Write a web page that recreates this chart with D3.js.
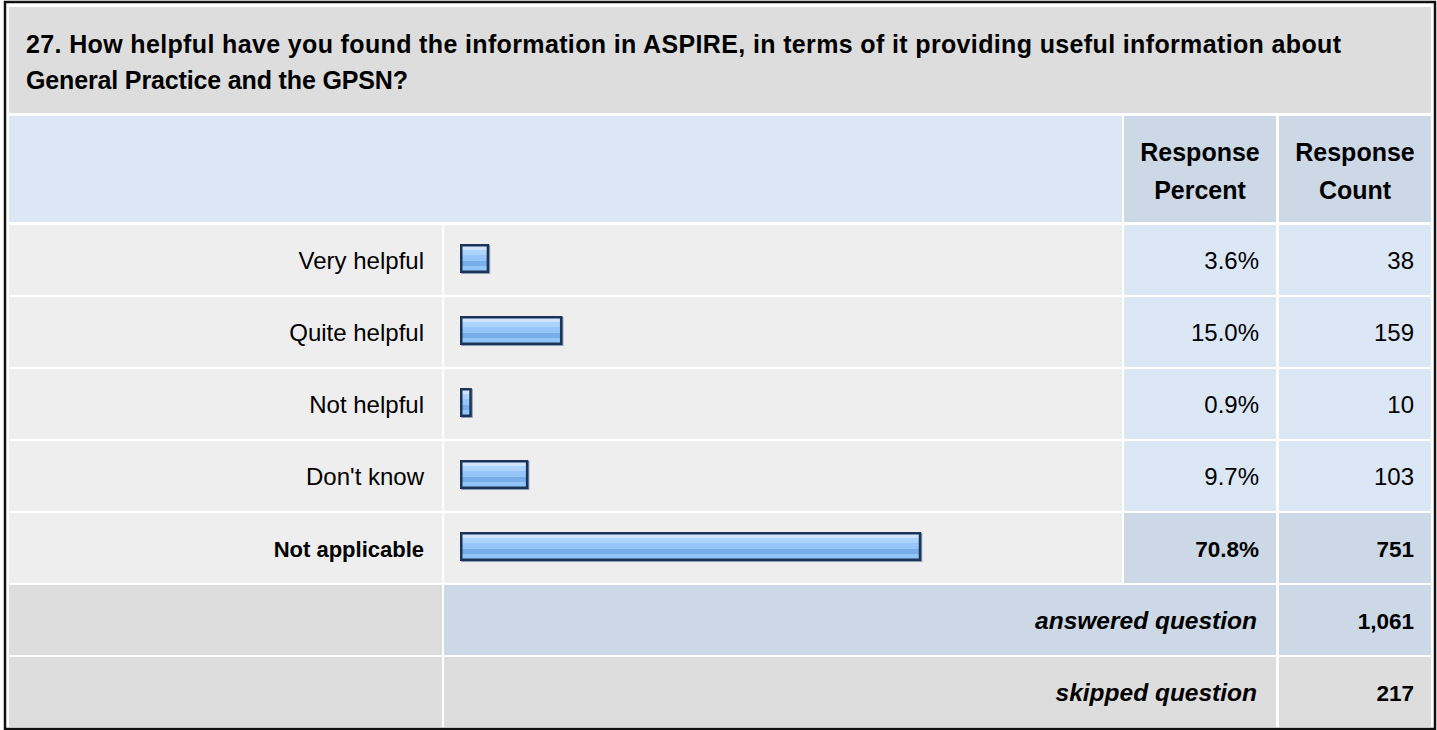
<!DOCTYPE html>
<html>
<head>
<meta charset="utf-8">
<script src="https://cdn.jsdelivr.net/npm/d3@7"></script>
<style>
  html, body { margin: 0; padding: 0; background: #ffffff; }
  svg { display: block; font-family: "Liberation Sans", Arial, sans-serif; }
</style>
</head>
<body>
<svg id="chart" width="1437" height="730"></svg>
<script>
// ---- data ----
const titleLines = [
  "27. How helpful have you found the information in ASPIRE, in terms of it providing useful information about",
  "General Practice and the GPSN?"
];
const categories = ["Very helpful", "Quite helpful", "Not helpful", "Don't know", "Not applicable"];
const percents = [3.6, 15.0, 0.9, 9.7, 70.8];
const counts = [38, 159, 10, 103, 751];
const headerPercent = ["Response", "Percent"];
const headerCount = ["Response", "Count"];
const summaryLabels = ["answered question", "skipped question"];
const summaryValues = [1061, 217];

// ---- layout ----
const svg = d3.select("#chart");
const colLabel = [9, 442], colBar = [444, 1122], colPct = [1124, 1276], colCnt = [1279, 1431];
const C = {
  grey: "#dddddd", light: "#eeeeee", blue: "#dce7f5", blueDark: "#ccd8e6",
  text: "#000000", barStroke: "#1c3458"
};
const fmtPct = d => d3.format(".1f")(d) + "%";
const fmtCnt = d3.format(",");
const maxIdx = d3.maxIndex(percents);
const titleWidths = [1315, 382];

// defs: bar gradient
const defs = svg.append("defs");
const grad = defs.append("linearGradient").attr("id", "barGrad")
  .attr("x1", 0).attr("y1", 0).attr("x2", 0).attr("y2", 1);
[[0, "#cfe5fc"], [0.18, "#cfe5fc"], [0.18, "#add4fb"], [0.38, "#add4fb"], [0.38, "#96c6f9"],
 [0.58, "#96c6f9"], [0.58, "#78aeea"], [0.78, "#78aeea"], [0.78, "#93c4f8"], [1, "#93c4f8"]]
  .forEach(([o, c]) => grad.append("stop").attr("offset", o).attr("stop-color", c));

// outer frame
svg.append("rect").attr("x", 5).attr("y", 2).attr("width", 1430).attr("height", 727)
  .attr("fill", "#ffffff").attr("stroke", "#111").attr("stroke-width", 2.5);

function cell(x0, x1, y0, y1, fill) {
  svg.append("rect").attr("x", x0).attr("y", y0).attr("width", x1 - x0).attr("height", y1 - y0).attr("fill", fill);
}

// title row
cell(colLabel[0], colCnt[1], 7, 113, C.grey);
svg.append("g").selectAll("text").data(titleLines).join("text")
  .attr("x", 26).attr("y", (d, i) => 52.5 + i * 36.7)
  .attr("font-size", 25).attr("font-weight", "bold")
  .attr("textLength", (d, i) => titleWidths[i]).attr("lengthAdjust", "spacing")
  .attr("fill", C.text).text(d => d);

// header row
cell(colLabel[0], colBar[1], 116, 222, C.blue);
cell(colPct[0], colPct[1], 116, 222, C.blueDark);
cell(colCnt[0], colCnt[1], 116, 222, C.blueDark);
[[colPct, headerPercent], [colCnt, headerCount]].forEach(([col, lines]) => {
  svg.append("g").selectAll("text").data(lines).join("text")
    .attr("x", (col[0] + col[1]) / 2).attr("y", (d, i) => 161 + i * 37.7)
    .attr("text-anchor", "middle").attr("font-size", 25).attr("font-weight", "bold")
    .attr("fill", C.text).text(d => d);
});

// rows
const y = d3.scaleBand().domain(categories).range([225, 583]).paddingInner(2 / 72).paddingOuter(0);
const x = d3.scaleLinear().domain([0, 100]).range([0, 643]);
const barX0 = 460, barPad = 6;

const rows = svg.append("g").selectAll("g").data(categories).join("g")
  .attr("transform", d => `translate(0,${y(d)})`);
const bw = y.bandwidth();
rows.append("rect").attr("x", colLabel[0]).attr("width", colLabel[1] - colLabel[0]).attr("height", bw).attr("fill", C.light);
rows.append("rect").attr("x", colBar[0]).attr("width", colBar[1] - colBar[0]).attr("height", bw).attr("fill", C.light);
rows.append("rect").attr("x", colPct[0]).attr("width", colPct[1] - colPct[0]).attr("height", bw)
  .attr("fill", (d, i) => i === maxIdx ? C.blueDark : C.blue);
rows.append("rect").attr("x", colCnt[0]).attr("width", colCnt[1] - colCnt[0]).attr("height", bw)
  .attr("fill", (d, i) => i === maxIdx ? C.blueDark : C.blue);

const isBold = (i) => i === maxIdx;
rows.append("text").attr("x", colLabel[1] - 18).attr("y", bw / 2 + 8.5)
  .attr("text-anchor", "end").attr("fill", C.text)
  .attr("font-size", (d, i) => isBold(i) ? 22 : 24)
  .attr("font-weight", (d, i) => isBold(i) ? "bold" : "normal").text(d => d);

// bars: shadow, then bar
rows.append("rect")
  .attr("x", barX0 + 1).attr("y", 20)
  .attr("width", (d, i) => x(percents[i]) + barPad).attr("height", 29)
  .attr("fill", "#8c9db3");
rows.append("rect")
  .attr("x", barX0 + 1.25).attr("y", 19 + 1.25)
  .attr("width", (d, i) => x(percents[i]) + barPad - 2.5).attr("height", 29 - 2.5)
  .attr("fill", "url(#barGrad)").attr("stroke", C.barStroke).attr("stroke-width", 2.5);

rows.append("text").attr("x", colPct[1] - 17).attr("y", bw / 2 + 8.5)
  .attr("text-anchor", "end").attr("fill", C.text)
  .attr("font-size", (d, i) => isBold(i) ? 22.5 : 24)
  .attr("font-weight", (d, i) => isBold(i) ? "bold" : "normal")
  .text((d, i) => fmtPct(percents[i]));
rows.append("text").attr("x", colCnt[1] - 17).attr("y", bw / 2 + 8.5)
  .attr("text-anchor", "end").attr("fill", C.text)
  .attr("font-size", (d, i) => isBold(i) ? 22.5 : 24)
  .attr("font-weight", (d, i) => isBold(i) ? "bold" : "normal")
  .text((d, i) => fmtCnt(counts[i]));

// summary rows
const ys = d3.scaleBand().domain(summaryLabels).range([585, 727]).paddingInner(2 / 72).paddingOuter(0);
const sbw = ys.bandwidth();
const srows = svg.append("g").selectAll("g").data(summaryLabels).join("g")
  .attr("transform", d => `translate(0,${ys(d)})`);
srows.append("rect").attr("x", colLabel[0]).attr("width", colLabel[1] - colLabel[0]).attr("height", sbw).attr("fill", C.grey);
srows.append("rect").attr("x", colBar[0]).attr("width", colPct[1] - colBar[0]).attr("height", sbw)
  .attr("fill", (d, i) => i === 0 ? C.blueDark : C.grey);
srows.append("rect").attr("x", colCnt[0]).attr("width", colCnt[1] - colCnt[0]).attr("height", sbw)
  .attr("fill", (d, i) => i === 0 ? C.blueDark : C.grey);
srows.append("text").attr("x", colPct[1] - 19).attr("y", sbw / 2 + 8.5)
  .attr("text-anchor", "end").attr("font-size", 24.5).attr("font-weight", "bold").attr("font-style", "italic")
  .attr("fill", C.text).text(d => d);
srows.append("text").attr("x", colCnt[1] - 17).attr("y", sbw / 2 + 8.5)
  .attr("text-anchor", "end").attr("font-size", 22.5).attr("font-weight", "bold")
  .attr("fill", C.text).text((d, i) => fmtCnt(summaryValues[i]));
</script>
</body>
</html>
